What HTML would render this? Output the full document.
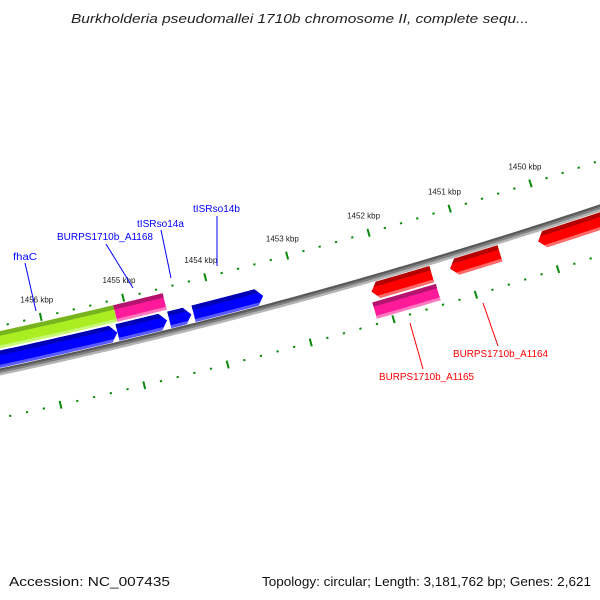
<!DOCTYPE html>
<html><head><meta charset="utf-8"><style>
html,body{margin:0;padding:0;background:#fff}
svg{display:block;font-family:"Liberation Sans","DejaVu Sans",sans-serif}
</style></head><body>
<svg id="map" width="600" height="600" viewBox="0 0 600 600" xmlns="http://www.w3.org/2000/svg">
<rect width="600" height="600" fill="#fff"/>
<text x="300" y="23" text-anchor="middle" font-size="13" font-style="italic" fill="#222" textLength="458" lengthAdjust="spacingAndGlyphs">Burkholderia pseudomallei 1710b chromosome II, complete sequ...</text>
<g id="ticks"></g>
<g id="backbone"></g>
<g id="features"></g>
<g font-size="10">
<line x1="25" y1="263" x2="36" y2="311" stroke="#00f" stroke-width="1"/>
<text x="13" y="260" fill="#00f" textLength="24" lengthAdjust="spacingAndGlyphs">fhaC</text>
<line x1="106" y1="244" x2="133" y2="288" stroke="#00f" stroke-width="1"/>
<text x="57" y="240" fill="#00f" textLength="96" lengthAdjust="spacingAndGlyphs">BURPS1710b_A1168</text>
<line x1="161" y1="230" x2="171" y2="278" stroke="#00f" stroke-width="1"/>
<text x="137" y="227" fill="#00f" textLength="47" lengthAdjust="spacingAndGlyphs">tISRso14a</text>
<line x1="217" y1="216" x2="217" y2="266" stroke="#00f" stroke-width="1"/>
<text x="193" y="212" fill="#00f" textLength="47" lengthAdjust="spacingAndGlyphs">tISRso14b</text>
<line x1="483" y1="303" x2="498" y2="346" stroke="#f00" stroke-width="1"/>
<text x="453" y="357" fill="#f00" textLength="95" lengthAdjust="spacingAndGlyphs">BURPS1710b_A1164</text>
<line x1="410" y1="323" x2="423" y2="369" stroke="#f00" stroke-width="1"/>
<text x="379" y="380" fill="#f00" textLength="95" lengthAdjust="spacingAndGlyphs">BURPS1710b_A1165</text>
</g>
<text x="9" y="586" font-size="12.5" fill="#111" textLength="161" lengthAdjust="spacingAndGlyphs">Accession: NC_007435</text>
<text x="591" y="586" text-anchor="end" font-size="12.5" fill="#111" textLength="329" lengthAdjust="spacingAndGlyphs">Topology: circular; Length: 3,181,762 bp; Genes: 2,621</text>
</svg>
<script>
// ---- data ----
const featStart = [1457500, 1455135, 1457500, 1455161, 1454535, 1454240, 1452160, 1451202, 1450123, 1452184];
const featEnd   = [1455135, 1454534, 1455161, 1454560, 1454265, 1453394, 1451423, 1450589, 1448500, 1451411];
const featType  = ['fhaC','A1168','gene','gene','tISRso14a','tISRso14b','A1165r','A1164','gene','A1165p'];
const featRing  = ['f2','f2','f1','f1','f1','f1','r1','r1','r1','r2'];
const featTip   = ['none','none','end','end','end','end','start','start','start','none'];
const featColor = ['green','pink','blue','blue','blue','blue','red','red','red','pink'];
const tickStartBp = 1448000, tickEndBp = 1458000, tickStep = 200;

// ---- geometry ----
const NS = 'http://www.w3.org/2000/svg';
function circ(a,b,c){
  const d = 2*(a[0]*(b[1]-c[1])+b[0]*(c[1]-a[1])+c[0]*(a[1]-b[1]));
  const ux = ((a[0]**2+a[1]**2)*(b[1]-c[1])+(b[0]**2+b[1]**2)*(c[1]-a[1])+(c[0]**2+c[1]**2)*(a[1]-b[1]))/d;
  const uy = ((a[0]**2+a[1]**2)*(c[0]-b[0])+(b[0]**2+b[1]**2)*(a[0]-c[0])+(c[0]**2+c[1]**2)*(b[0]-a[0]))/d;
  return [ux,uy,Math.hypot(a[0]-ux,a[1]-uy)];
}
const [cx,cy,R] = circ([0,372],[310,296],[600,208]);
const s = (296-cy) > 0 ? -1 : 1;
const ringOff = {up:45, f2:31.5, f1:12.5, r1:-12.5, r2:-31.5, low:-45};
const angA = Math.atan2(318-cy, 41-cx), angB = Math.atan2(182-cy, 530-cx);
function ang(bp){ return angA + (bp-1456000)/(1450000-1456000)*(angB-angA); }
function rad(off){ return R + s*off; }
function pt(off,a){ const r=rad(off); return [cx+r*Math.cos(a), cy+r*Math.sin(a)]; }
function el(tag, attrs, parent){ const e=document.createElementNS(NS,tag); for(const k in attrs) e.setAttribute(k,attrs[k]); parent.appendChild(e); return e; }

const bb = document.getElementById('backbone');
const a0 = Math.atan2(380-cy, -20-cx), a1 = Math.atan2(195-cy, 620-cx);
function arcPath(off,aS,aE){ let d=''; const n=80; for(let i=0;i<=n;i++){ const p=pt(off,aS+(aE-aS)*i/n); d+=(i?'L':'M')+p[0].toFixed(2)+' '+p[1].toFixed(2);} return d; }
[[2.2,'#5a5a5a',2.6],[0,'#808080',2.4],[-2.2,'#b4b4b4',2.4]].forEach(([o,c,w])=>{
  const p = el('path',{d:arcPath(o,a0,a1),stroke:c,'stroke-width':w,fill:'none'},bb);
  
  
});

const tg = document.getElementById('ticks');
for(let bp=tickStartBp; bp<=tickEndBp; bp+=tickStep){
  const a = ang(bp), major = bp%1000===0;
  ['up','low'].forEach(ring=>{
    const o = ringOff[ring], h = major?4:1;
    const p1=pt(o-h,a), p2=pt(o+h,a);
    const ln = el('line',{x1:p1[0],y1:p1[1],x2:p2[0],y2:p2[1],stroke:'#0a8a0a','stroke-width':major?2:2.2},tg);
    
    
  });
  if(major){
    const lp = pt(ringOff.up+18,a);
    if(lp[0] < 10 || lp[0] > 575) continue;
    const t = el('text',{x:lp[0],y:lp[1]+3,'text-anchor':'middle','font-size':'8',fill:'#222'},tg);
    t.textContent = (bp/1000)+' kbp';
    
    
  }
}

const colors = {
  blue:['#0000b4','#0000ff','#5a5aff'],
  red:['#b40000','#ff0000','#ff6a6a'],
  green:['#78b41e','#aaee22','#c8f878'],
  pink:['#b4146e','#ff1a9a','#ff78c0']
};
const fg = document.getElementById('features');
const TH = 17, HEAD = 7;
featStart.forEach((bs,i)=>{
  const be = featEnd[i], o = ringOff[featRing[i]];
  let aS = ang(bs), aE = ang(be);
  const dir = Math.sign(aE-aS);
  const dh = HEAD/rad(o);
  const top=o+TH/2, bot=o-TH/2;
  let pts=[];
  let bodyS=aS, bodyE=aE;
  if(featTip[i]==='end') bodyE = aE - dir*dh;
  if(featTip[i]==='start') bodyS = aS + dir*dh;
  const n=30;
  if(featTip[i]==='start') pts.push(pt(o,aS));
  for(let k=0;k<=n;k++) pts.push(pt(top,bodyS+(bodyE-bodyS)*k/n));
  if(featTip[i]==='end') pts.push(pt(o,aE));
  for(let k=n;k>=0;k--) pts.push(pt(bot,bodyS+(bodyE-bodyS)*k/n));
  const d = 'M'+pts.map(p=>p[0].toFixed(2)+' '+p[1].toFixed(2)).join('L')+'Z';
  const g = el('g',{},fg);
  
  
  const cid='clip'+i;
  const cp = el('clipPath',{id:cid},g);
  el('path',{d:d},cp);
  const c = colors[featColor[i]];
  const gg = el('g',{'clip-path':'url(#'+cid+')'},g);
  const span=[aS-dir*0.01,aE+dir*0.01];
  el('path',{d:d,fill:c[1]},gg);
  const tb = el('path',{d:arcPath(top-2,span[0],span[1]),stroke:c[0],'stroke-width':5,fill:'none'},gg);
  
  
  const lb = el('path',{d:arcPath(bot+1.5,span[0],span[1]),stroke:c[2],'stroke-width':3,fill:'none'},gg);
  
  
});
</script>
</body></html>
